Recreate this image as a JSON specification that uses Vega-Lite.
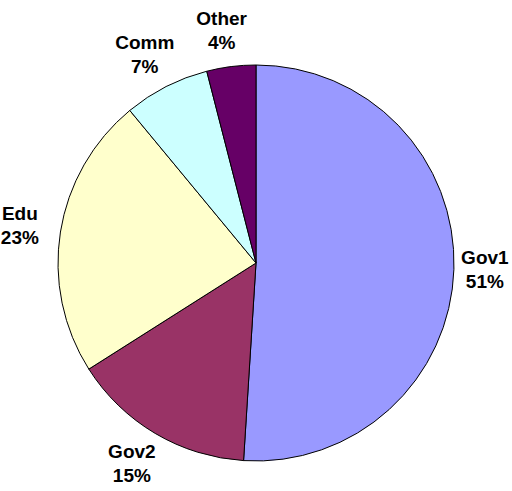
{
  "$schema": "https://vega.github.io/schema/vega-lite/v6.json",
  "autosize": "none",
  "width": 512,
  "height": 452,
  "padding": {"top": 37, "left": 0, "right": 0, "bottom": 0},
  "background": "white",
  "data": {
    "values": [
      {"category": "Gov1", "value": 51, "rank": 1, "label": "Gov1\n51%"},
      {"category": "Gov2", "value": 15, "rank": 2, "label": "Gov2\n15%"},
      {"category": "Edu", "value": 23, "rank": 3, "label": "Edu\n23%"},
      {"category": "Comm", "value": 7, "rank": 4, "label": "Comm\n7%"},
      {"category": "Other", "value": 4, "rank": 5, "label": "Other\n4%"}
    ]
  },
  "encoding": {
    "theta": {"field": "value", "type": "quantitative", "stack": true},
    "order": {"field": "rank", "type": "quantitative", "sort": "ascending"}
  },
  "layer": [
    {
      "mark": {"type": "arc", "outerRadius": 198, "stroke": "black", "strokeWidth": 1},
      "encoding": {
        "color": {
          "field": "category",
          "type": "nominal",
          "scale": {
            "domain": ["Gov1", "Gov2", "Edu", "Comm", "Other"],
            "range": ["#9999FF", "#993366", "#FFFFCC", "#CCFFFF", "#660066"]
          },
          "legend": null
        }
      }
    },
    {
      "mark": {
        "type": "text",
        "radius": 234,
        "dx": -5,
        "dy": -12,
        "font": "Liberation Sans",
        "fontWeight": "bold",
        "fontSize": 19,
        "lineBreak": "\n",
        "lineHeight": 24,
        "align": "center",
        "baseline": "middle",
        "color": "black"
      },
      "encoding": {
        "text": {"field": "label", "type": "nominal"}
      }
    }
  ]
}
